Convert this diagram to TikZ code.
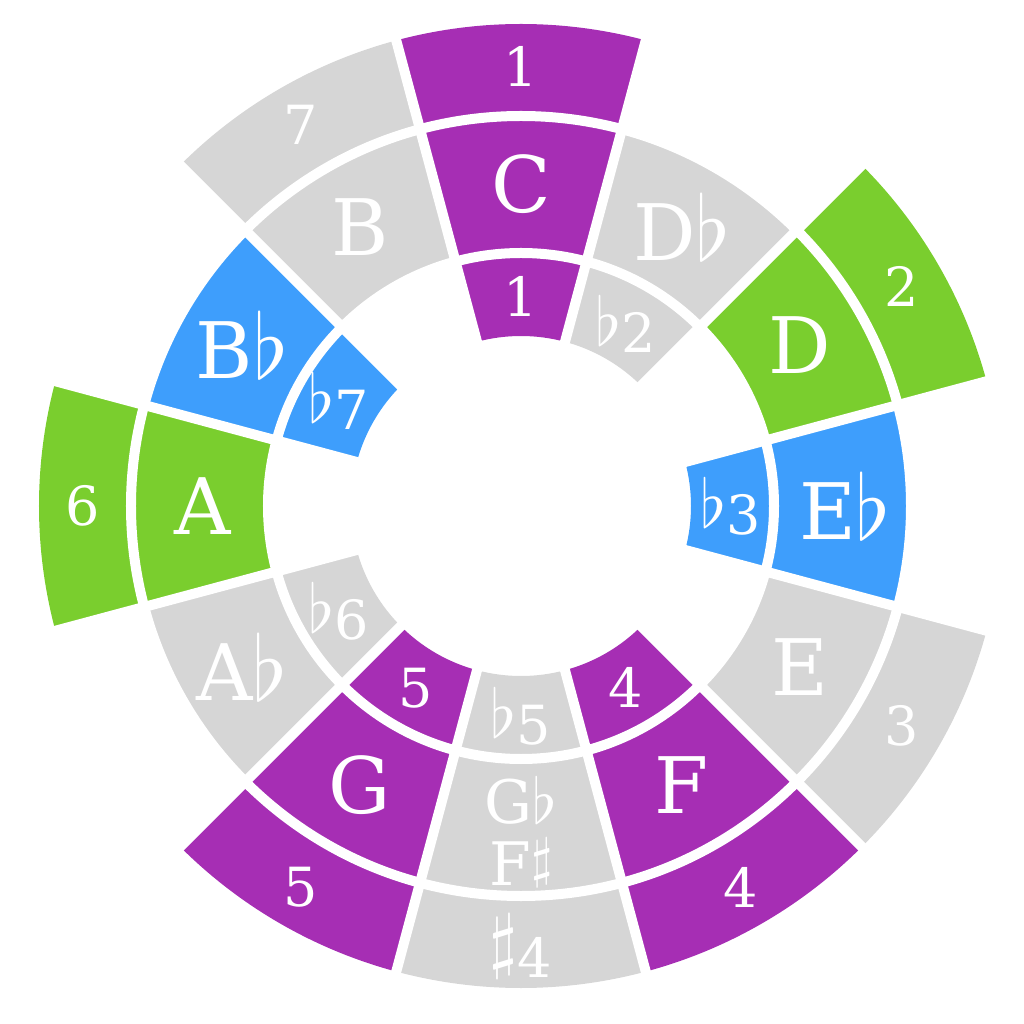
\RequirePackage{fix-cm}
\documentclass[tikz,border=0pt]{standalone}
\usepackage{graphicx}
\usepackage{fontspec}
\setmainfont{DejaVu Serif}
\definecolor{cpurple}{RGB}{166,46,180}
\definecolor{cgreen}{RGB}{122,206,46}
\definecolor{cblue}{RGB}{62,158,252}
\definecolor{cgray}{RGB}{214,214,214}
\newcommand\accfl[2]{\raisebox{#2}{\scalebox{#1}{\fontsize{10}{12}\selectfont$\flat$}}}
\newcommand\accsh[2]{\raisebox{#2}{\scalebox{#1}{\fontsize{10}{12}\selectfont$\sharp$}}}
\newcommand\myfl{\accfl{6.7}{7pt}}
\newcommand\bigfl{\accfl{9.0}{0pt}}
\begin{document}
\begin{tikzpicture}[
  lab/.style={text=white, inner sep=0pt},
  mid/.style={lab, font=\fontsize{78}{80}\selectfont},
  sml/.style={lab, font=\fontsize{54}{56}\selectfont},
  gapline/.style={white, line width=10pt}
]
\useasboundingbox (-521pt,-518pt) rectangle (503pt,506pt);
% inner ring
\foreach \a/\c in {90/cpurple,60/cgray,0/cblue,-60/cpurple,-90/cgray,-120/cpurple,-150/cgray,150/cblue}
  \fill[\c] (\a-15:170pt) arc[start angle=\a-15,end angle=\a+15,radius=170pt]
    -- (\a+15:253pt) arc[start angle=\a+15,end angle=\a-15,radius=253pt] -- cycle;
% middle ring
\foreach \a/\c in {90/cpurple,60/cgray,30/cgreen,0/cblue,-30/cgray,-60/cpurple,-90/cgray,-120/cpurple,-150/cgray,180/cgreen,150/cblue,120/cgray}
  \fill[\c] (\a-15:253pt) arc[start angle=\a-15,end angle=\a+15,radius=253pt]
    -- (\a+15:390pt) arc[start angle=\a+15,end angle=\a-15,radius=390pt] -- cycle;
% outer ring
\foreach \a/\c in {90/cpurple,30/cgreen,-30/cgray,-60/cpurple,-90/cgray,-120/cpurple,180/cgreen,120/cgray}
  \fill[\c] (\a-15:390pt) arc[start angle=\a-15,end angle=\a+15,radius=390pt]
    -- (\a+15:482pt) arc[start angle=\a+15,end angle=\a-15,radius=482pt] -- cycle;
% white gaps
\draw[gapline] (0,0) circle[radius=253pt];
\draw[gapline] (0,0) circle[radius=390pt];
\foreach \a in {15,45,...,345}
  \draw[gapline] (\a:160pt) -- (\a:495pt);
% inner labels
\node[sml] (i1) at (90:210pt) {1};
\node[sml] (i2) at (60:210pt) {\myfl2};
\node[sml] (i3) at (0:210pt) {\myfl3};
\node[sml] (i4) at (-60:210pt) {4};
\node[sml] (i5) at (-90:210pt) {\myfl5};
\node[sml] (i6) at (-120:210pt) {5};
\node[sml] (i7) at (-150:210pt) {\myfl6};
\node[sml] (i8) at (150:210pt) {\myfl7};
% middle labels
\node[mid] (mC) at (90:322pt) {C};
\node[mid] (mDb) at (60:322pt) {D\bigfl};
\node[mid] (mD) at (30:322pt) {D};
\node[mid] (mEb) at (0:324pt) {E\bigfl};
\node[mid] (mE) at (-30:322pt) {E};
\node[mid] (mF) at (-60:322pt) {F};
\node[lab, align=center, font=\fontsize{60}{62}\selectfont] (mGb) at (-90:326pt) {G\accfl{6.3}{0pt}\\F\accsh{5.5}{9pt}};
\node[mid] (mG) at (-120:322pt) {G};
\node[mid] (mAb) at (-150:322pt) {A\bigfl};
\node[mid] (mA) at (180:318pt) {A};
\node[mid] (mBb) at (150:322pt) {B\bigfl};
\node[mid] (mB) at (120:322pt) {B};
% outer labels
\node[sml] (o1) at (90:440pt) {1};
\node[sml] (o2) at (30:440pt) {2};
\node[sml] (o3) at (-30:440pt) {3};
\node[sml] (o4) at (-60:440pt) {4};
\node[sml] (o5) at (-90:440pt) {\accsh{7.2}{13pt}4};
\node[sml] (o6) at (-120:440pt) {5};
\node[sml] (o7) at (180:438pt) {6};
\node[sml] (o8) at (120:440pt) {7};
\end{tikzpicture}
\end{document}
